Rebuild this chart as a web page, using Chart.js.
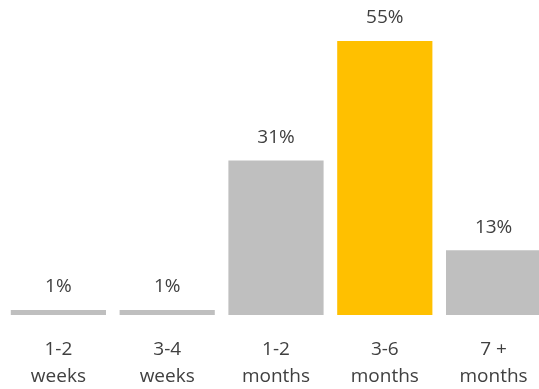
<!DOCTYPE html>
<html>
<head>
<meta charset="utf-8">
<style>
    html, body { margin: 0; padding: 0; background: #fff; overflow: hidden; }
    #wrap { width: 548px; height: 389px; }
</style>
<script src="https://cdn.jsdelivr.net/npm/chart.js@4/dist/chart.umd.min.js"></script>
</head>
<body>
<div id="wrap"><canvas id="durationChart" width="548" height="389"></canvas></div>
<script>
// Data
const categories = [['1-2', 'weeks'], ['3-4', 'weeks'], ['1-2', 'months'], ['3-6', 'months'], ['7 +', 'months']];
const shares = [1, 1, 31, 55, 13];
const barColors = ['#bfbfbf', '#bfbfbf', '#bfbfbf', '#ffc000', '#bfbfbf'];

const FONT = "'Open Sans', 'Noto Sans', sans-serif";
const TEXT_COLOR = '#404040';

// Percent labels above each bar
const valueLabels = {
    id: 'valueLabels',
    afterDatasetsDraw(chart) {
        const { ctx } = chart;
        const meta = chart.getDatasetMeta(0);
        ctx.save();
        ctx.font = `19px ${FONT}`;
        ctx.fillStyle = TEXT_COLOR;
        ctx.textAlign = 'center';
        ctx.textBaseline = 'middle';
        meta.data.forEach((bar, i) => {
            ctx.fillText(`${shares[i]}%`, bar.x, bar.y - 23);
        });
        ctx.restore();
    }
};

function initChart() {
    const ctx = document.getElementById('durationChart').getContext('2d');
    new Chart(ctx, {
        type: 'bar',
        data: {
            labels: categories,
            datasets: [{
                data: shares,
                backgroundColor: barColors,
                borderWidth: 0,
                barPercentage: 0.875,
                categoryPercentage: 1
            }]
        },
        options: {
            responsive: false,
            animation: false,
            layout: { padding: { left: 4, right: 0, top: 16, bottom: 0 } },
            plugins: {
                legend: { display: false },
                tooltip: { enabled: false }
            },
            scales: {
                x: {
                    grid: { display: false },
                    border: { display: false },
                    afterFit(scale) { scale.height = 74; },
                    ticks: {
                        color: TEXT_COLOR,
                        padding: 13,
                        font: { family: FONT, size: 19, lineHeight: 1.42 }
                    }
                },
                y: {
                    display: false,
                    min: 0,
                    max: 60
                }
            }
        },
        plugins: [valueLabels]
    });
}

initChart();
</script>
</body>
</html>
